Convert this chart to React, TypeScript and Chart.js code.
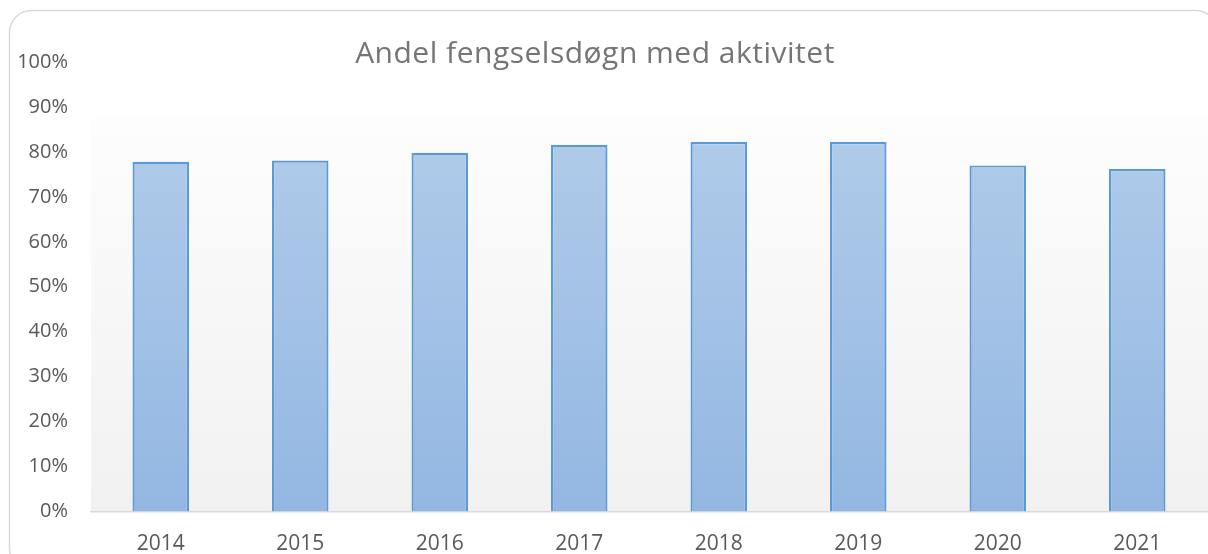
import React, { useEffect, useRef } from "react";
import { Chart, registerables } from "chart.js";

Chart.register(...registerables);

const TITLE = "Andel fengselsdøgn med aktivitet";
const YEARS = ["2014", "2015", "2016", "2017", "2018", "2019", "2020", "2021"];
const SHARE = [0.778, 0.781, 0.798, 0.816, 0.822, 0.822, 0.770, 0.762];
const Y_TICKS = [0, 0.1, 0.2, 0.3, 0.4, 0.5, 0.6, 0.7, 0.8, 0.9, 1.0];

const FONT = "'Open Sans', 'Noto Sans', sans-serif";

const decor = {
  id: "decor",
  beforeDraw(chart: any) {
    const { ctx, chartArea, scales } = chart;
    ctx.save();
    // outer rounded frame
    ctx.strokeStyle = "#d9d9d9";
    ctx.lineWidth = 1.5;
    const x = 9.5, y = 10.5, w = 1208, h = 560, r = 22;
    ctx.beginPath();
    ctx.moveTo(x + r, y);
    ctx.lineTo(x + w - r, y);
    ctx.arcTo(x + w, y, x + w, y + r, r);
    ctx.lineTo(x + w, y + h - r);
    ctx.arcTo(x + w, y + h, x + w - r, y + h, r);
    ctx.lineTo(x + r, y + h);
    ctx.arcTo(x, y + h, x, y + h - r, r);
    ctx.lineTo(x, y + r);
    ctx.arcTo(x, y, x + r, y, r);
    ctx.closePath();
    ctx.stroke();
    // plot area gradient
    const top = scales.y.getPixelForValue(0.875);
    const g = ctx.createLinearGradient(0, top, 0, chartArea.bottom);
    g.addColorStop(0, "#fdfdfd");
    g.addColorStop(1, "#f1f1f1");
    ctx.fillStyle = g;
    ctx.fillRect(chartArea.left, top, chartArea.right - chartArea.left + 2, chartArea.bottom - top);
    // title
    ctx.fillStyle = "#757575";
    ctx.font = `30px ${FONT}`;
    try { (ctx as any).letterSpacing = "0.5px"; } catch (e) {}
    ctx.textAlign = "center";
    ctx.textBaseline = "alphabetic";
    ctx.fillText(TITLE, 595, 63);
    try { (ctx as any).letterSpacing = "0px"; } catch (e) {}
    ctx.restore();
  },
};

export default function App() {
  const ref = useRef<HTMLCanvasElement>(null);
  useEffect(() => {
    const canvas = ref.current!;
    const chart = new Chart(canvas, {
      type: "bar",
      data: {
        labels: YEARS,
        datasets: [
          {
            data: SHARE,
            backgroundColor: (c: any) => {
              const ca = c.chart.chartArea;
              if (!ca) return "#a5c3e6";
              const g = c.chart.ctx.createLinearGradient(0, ca.top, 0, ca.bottom);
              g.addColorStop(0, "#b6cfeb");
              g.addColorStop(1, "#93b7e2");
              return g;
            },
            borderColor: "#5b9bd5",
            borderWidth: 2.2,
            categoryPercentage: 1,
            barPercentage: 0.405,
          },
        ],
      },
      options: {
        responsive: false,
        animation: false,
        layout: { padding: { left: 0, right: 1, top: 62, bottom: 0 } },
        plugins: {
          legend: { display: false },
          title: { display: false },
          tooltip: { enabled: false },
        },
        scales: {
          x: {
            grid: { display: false },
            border: { display: true, color: "#d9d9d9", width: 1.5 },
            ticks: { color: "#595959", font: { family: FONT, size: 21 }, padding: 12, maxRotation: 0 },
            afterFit: (s: any) => { s.height = 42.5; },
          },
          y: {
            min: 0,
            max: 1,
            afterBuildTicks: (s: any) => { s.ticks = Y_TICKS.map((v) => ({ value: v })); },
            grid: { display: false },
            border: { display: false },
            ticks: {
              color: "#595959",
              font: { family: FONT, size: 20 },
              padding: 15,
              callback: (v: any) => `${Math.round(Number(v) * 100)}%`,
            },
            afterFit: (s: any) => { s.width = 91; },
          },
        },
      },
      plugins: [decor],
    });
    return () => chart.destroy();
  }, []);
  return (
    <div style={{ position: "fixed", left: 0, top: 0, width: 1208, height: 554, background: "#ffffff" }}>
      <canvas ref={ref} width={1208} height={554} style={{ display: "block" }} />
    </div>
  );
}
